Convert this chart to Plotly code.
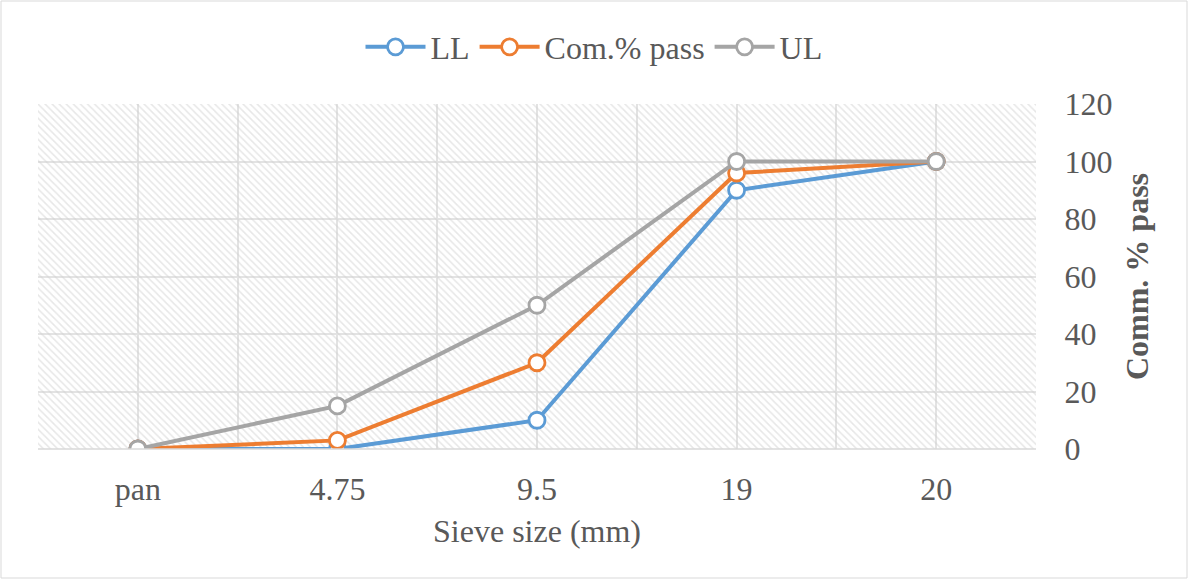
import plotly.graph_objects as go

categories = ["pan", "4.75", "9.5", "19", "20"]
ll = [0, 0, 10, 90, 100]
com_pass = [0, 3, 30, 96, 100]
ul = [0, 15, 50, 100, 100]
y_ticks = [0, 20, 40, 60, 80, 100, 120]

W, H = 1188, 579
ML, MR, MT, MB = 38, 152, 104, 130
FONT = "Liberation Serif"
TXT = "#595959"
FS = 32

xpos = list(range(len(categories)))
xr = [-0.5, len(categories) - 0.5]
yr = [0, 120]

fig = go.Figure()

# hatched plot background
fig.add_trace(go.Scatter(
    x=[xr[0], xr[1], xr[1], xr[0], xr[0]],
    y=[yr[0], yr[0], yr[1], yr[1], yr[0]],
    mode="none", fill="toself", fillcolor="rgba(0,0,0,0)",
    fillpattern=dict(shape="\\", fgcolor="#cfcfcf", size=5, solidity=0.3),
    showlegend=False, hoverinfo="skip"))

series = [("LL", ll, "#5B9BD5"), ("Com.% pass", com_pass, "#ED7D31"), ("UL", ul, "#A5A5A5")]
for name, vals, col in series:
    fig.add_trace(go.Scatter(
        x=xpos, y=vals, name=name, mode="lines+markers",
        line=dict(color=col, width=4),
        marker=dict(symbol="circle", size=16, color="white", line=dict(color=col, width=2.8))))

# gridlines every half category
half_vals = [i * 0.5 - 0.5 for i in range(2 * len(categories) + 1)]
half_text = [categories[int(v)] if v == int(v) and 0 <= v < len(categories) else "" for v in half_vals]

fig.update_layout(
    width=W, height=H,
    margin=dict(l=ML, r=MR, t=MT, b=MB),
    paper_bgcolor="white", plot_bgcolor="white",
    font=dict(family=FONT, size=FS, color=TXT),
    showlegend=True,
    legend=dict(orientation="h", xref="container", x=0.5, xanchor="center",
                yref="container", y=1 - 47 / H, yanchor="middle",
                font=dict(family=FONT, size=FS, color=TXT), itemwidth=60,
                traceorder="normal"),
    xaxis=dict(range=xr, tickmode="array", tickvals=half_vals, ticktext=half_text,
               showgrid=True, gridcolor="#e3e3e3", gridwidth=1.5,
               zeroline=False, showline=False,
               ticks="outside", ticklen=12, tickcolor="rgba(0,0,0,0)",
               tickfont=dict(family=FONT, size=FS, color=TXT),
               title=dict(text="Sieve size (mm)", font=dict(family=FONT, size=FS, color=TXT), standoff=13)),
    yaxis=dict(range=yr, side="right", tickmode="array", tickvals=y_ticks,
               showgrid=True, gridcolor="#e3e3e3", gridwidth=1.5,
               zeroline=False, showline=False,
               ticks="outside", ticklen=21, tickcolor="rgba(0,0,0,0)",
               tickfont=dict(family=FONT, size=FS, color=TXT),
               title=dict(text="<b>Comm. % pass</b>", font=dict(family=FONT, size=FS, color=TXT), standoff=14)),
    shapes=[
        dict(type="line", xref="paper", yref="paper", x0=0, x1=1, y0=0, y1=0,
             line=dict(color="#d9d9d9", width=1.5)),
        dict(type="rect", xref="paper", yref="paper",
             x0=(1 - ML) / (W - ML - MR), x1=(W - 1 - ML) / (W - ML - MR),
             y0=-(MB - 1) / (H - MT - MB), y1=1 + (MT - 1) / (H - MT - MB),
             line=dict(color="#d9d9d9", width=1)),
    ],
)

fig.write_html("out.html")
